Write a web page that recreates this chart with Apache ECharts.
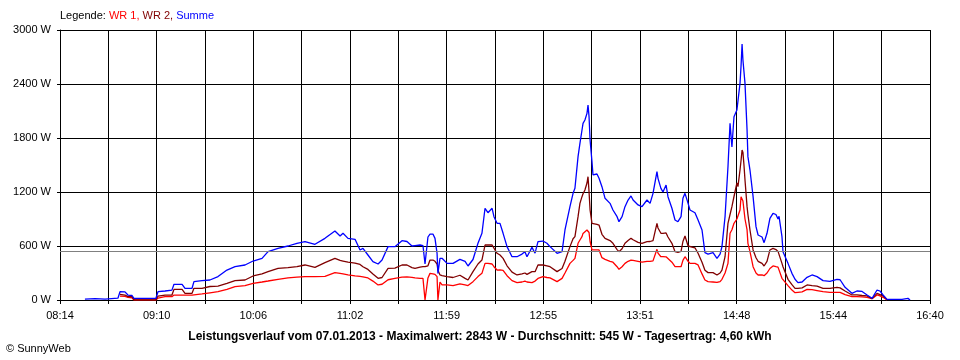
<!DOCTYPE html>
<html>
<head>
<meta charset="utf-8">
<script src="https://cdn.jsdelivr.net/npm/echarts@6/dist/echarts.min.js"></script>
<style>
html,body{margin:0;padding:0;background:#fff;}
#chart{width:960px;height:360px;}
</style>
</head>
<body>
<div id="chart"></div>
<script>
// minutes after 08:14 (start of the time axis)
const minutes = [14.5,20.4,26.2,33.7,34.9,37.8,39.5,41.9,43.0,49.4,55.8,57.0,61.1,65.1,66.3,71.0,72.7,76.8,77.9,82.6,87.2,91.9,97.1,101.8,107.6,112.3,117.5,121.0,126.8,132.6,137.8,142.5,148.3,154.1,159.9,162.9,164.6,167.5,171.6,174.5,176.2,179.1,182.0,185.0,187.3,190.8,194.8,198.9,201.8,204.7,206.5,209.4,211.1,212.3,213.4,214.0,215.2,216.9,218.1,219.3,219.8,221.0,222.2,225.1,228.6,232.6,235.6,237.3,240.2,243.1,245.4,247.2,248.9,251.3,252.4,254.2,255.9,257.7,260.0,262.9,265.8,268.7,270.4,271.6,274.5,276.3,278.0,280.9,283.2,285.0,289.1,292.0,293.7,296.6,298.4,299.5,301.3,302.4,303.6,304.2,305.3,306.5,307.1,307.7,308.3,309.4,310.0,312.3,313.5,315.2,317.0,319.9,321.6,324.0,325.1,326.9,328.6,330.4,332.1,333.3,336.2,338.5,341.4,343.2,344.9,347.2,347.8,349.5,350.7,352.5,353.6,355.9,357.7,359.4,361.2,362.3,363.5,365.3,366.4,369.3,371.1,373.4,375.1,376.9,379.8,382.1,383.9,385.0,386.8,388.5,389.7,390.8,392.0,393.7,394.3,395.5,396.1,396.7,397.2,397.8,398.4,399.6,400.1,401.3,403.1,404.8,406.0,408.3,409.5,411.2,412.9,414.7,416.4,417.6,418.2,419.9,420.5,423.4,425.7,427.5,429.2,431.6,434.5,437.4,440.3,443.8,447.8,451.9,453.7,456.6,460.6,463.5,466.5,469.4,472.3,475.2,476.9,478.7,481.0,485.6,489.7,493.2,494.4];

// WR 1 (W)
const wr1 = [null,null,null,null,44,40,30,25,0,0,0,22,37,37,55,55,55,55,67,67,80,92,118,148,160,185,200,211,230,245,255,259,259,262,304,295,290,280,267,262,258,245,210,167,175,225,241,255,256,252,245,241,241,0,0,245,296,290,285,260,0,200,167,167,160,178,167,160,204,260,296,407,407,400,370,333,335,330,270,215,193,200,210,200,193,210,240,259,250,245,204,240,300,407,440,463,630,667,704,740,760,778,780,750,650,556,556,556,556,470,452,430,420,370,341,370,407,430,444,440,430,420,430,430,435,563,520,481,481,480,460,420,370,370,370,440,481,430,407,407,390,290,222,204,200,195,204,230,300,407,741,780,852,900,889,1000,1148,1130,1100,1000,900,778,630,537,370,300,278,278,270,300,350,378,370,365,360,241,230,160,110,81,85,90,118,115,105,93,85,85,85,60,37,37,35,30,15,56,45,30,0,null,null,null,null];

// WR 2 (W)
const wr2 = [null,null,null,null,63,55,37,37,5,0,0,44,55,55,118,118,74,74,130,130,150,155,185,215,222,267,290,315,352,360,370,389,363,415,463,440,433,420,410,395,370,340,290,241,250,352,355,389,389,360,352,365,370,370,375,380,444,444,430,400,330,278,270,259,250,275,240,222,315,400,444,611,611,611,600,519,500,463,380,310,278,290,300,285,315,315,389,389,380,370,315,350,430,593,680,704,926,1074,1148,1180,1222,1300,1370,1200,1000,852,833,840,833,730,685,660,630,560,537,570,630,660,685,670,640,630,648,650,660,852,800,741,740,745,700,630,537,530,540,650,711,600,593,580,519,420,330,304,304,278,300,333,481,852,950,1037,1150,1300,1259,1444,1550,1667,1640,1500,1333,1037,950,778,556,470,430,407,378,430,556,574,560,540,556,407,370,230,170,130,130,135,167,160,155,130,130,140,135,100,56,56,50,45,15,74,60,45,4,null,null,null,null];

// Summe (W)
const summe = [10,15,10,20,92,90,55,50,19,19,19,92,100,110,174,174,130,130,204,215,222,260,333,370,389,433,463,537,574,600,630,648,619,685,767,711,741,685,674,556,574,500,426,400,444,593,593,659,650,600,605,611,605,400,400,700,733,733,685,519,296,463,463,407,407,452,430,378,450,630,741,1019,970,1019,926,852,852,741,593,481,481,510,537,481,585,520,648,655,630,593,519,537,778,1037,1185,1241,1593,1741,1889,1963,2000,2074,2167,2037,1778,1537,1389,1400,1352,1259,1130,1074,1000,926,870,926,1037,1111,1156,1111,1056,1037,1111,1074,1185,1426,1352,1241,1200,1278,1148,1019,889,870,926,1130,1185,1074,1000,970,889,778,526,510,526,463,510,593,926,1481,1963,1700,2037,2111,2130,2407,2600,2843,2667,2667,2407,1889,1593,1444,1148,815,722,700,637,741,907,963,950,900,930,704,537,407,296,230,193,200,252,278,260,215,207,230,225,141,74,100,95,56,19,111,100,56,7,7,7,18,0];

const xTickLabels = ['08:14','09:10','10:06','11:02','11:59','12:55','13:51','14:48','15:44','16:40'];
const spanMinutes = 506;          // 08:14 -> 16:40
const gridSteps = 18;             // vertical grid lines
const yMax = 3000, yStep = 600;
const average = 545;
const titleText = 'Leistungsverlauf vom 07.01.2013 - Maximalwert: 2843 W - Durchschnitt: 545 W - Tagesertrag: 4,60 kWh';

const font = 'Liberation Sans, Arial, sans-serif';
const step = spanMinutes / gridSteps;
const pts = arr => minutes.map((m, i) => [m, arr[i]]);
const lw = 1.3;

const chart = echarts.init(document.getElementById('chart'), null, {renderer: 'canvas'});
chart.setOption({
  animation: false,
  backgroundColor: '#ffffff',
  grid: {left: 60, right: 30, top: 30, bottom: 60, containLabel: false},
  title: [
    {
      text: '{a|Legende: }{b|WR 1, }{c|WR 2, }{d|Summe}',
      left: 60, top: 10, padding: 0,
      textStyle: {fontFamily: font, fontSize: 11, fontWeight: 'normal',
        rich: {
          a: {color: '#000000', fontFamily: font, fontSize: 11},
          b: {color: '#ff0000', fontFamily: font, fontSize: 11},
          c: {color: '#800000', fontFamily: font, fontSize: 11},
          d: {color: '#0000ff', fontFamily: font, fontSize: 11}
        }}
    },
    {
      text: titleText, left: 'center', top: 331, padding: 0,
      textStyle: {fontFamily: font, fontSize: 12, fontWeight: 'bold', color: '#000'}
    },
    {
      text: '\u00a9 SunnyWeb', left: 6, top: 343, padding: 0,
      textStyle: {fontFamily: font, fontSize: 11, fontWeight: 'normal', color: '#000'}
    }
  ],
  xAxis: {
    type: 'value', min: 0, max: spanMinutes, interval: step,
    axisLine: {show: true, lineStyle: {color: '#000', width: 1}},
    axisTick: {show: true, length: 4, lineStyle: {color: '#000'}},
    splitLine: {show: true, lineStyle: {color: '#000', width: 1}},
    axisLabel: {
      color: '#000', fontFamily: font, fontSize: 11, margin: 10,
      showMinLabel: true, showMaxLabel: true,
      formatter: v => {
        const idx = Math.round(v / step);
        return idx % 2 === 0 ? (xTickLabels[idx / 2] || '') : '';
      }
    }
  },
  yAxis: {
    type: 'value', min: 0, max: yMax, interval: yStep,
    axisLine: {show: true, lineStyle: {color: '#000', width: 1}},
    axisTick: {show: true, length: 3, lineStyle: {color: '#000'}},
    splitLine: {show: true, lineStyle: {color: '#000', width: 1}},
    axisLabel: {color: '#000', fontFamily: font, fontSize: 11, margin: 9, formatter: v => v + ' W'}
  },
  series: [
    {
      name: 'WR 1', type: 'line', data: pts(wr1), showSymbol: false, symbol: 'none',
      connectNulls: false, lineStyle: {color: '#ff0000', width: lw}, itemStyle: {color: '#ff0000'},
      markLine: {
        silent: true, symbol: 'none', label: {show: false},
        lineStyle: {color: '#808080', type: 'solid', width: 1},
        data: [{yAxis: average}]
      }
    },
    {
      name: 'WR 2', type: 'line', data: pts(wr2), showSymbol: false, symbol: 'none',
      lineStyle: {color: '#800000', width: lw}, itemStyle: {color: '#800000'}
    },
    {
      name: 'Summe', type: 'line', data: pts(summe), showSymbol: false, symbol: 'none',
      lineStyle: {color: '#0000ff', width: lw}, itemStyle: {color: '#0000ff'}
    }
  ]
});
</script>
</body>
</html>
